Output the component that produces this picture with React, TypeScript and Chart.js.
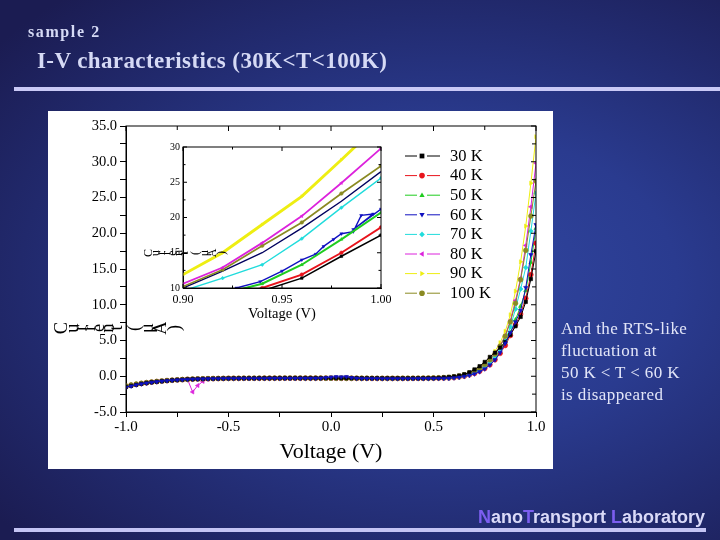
import React, { useEffect, useRef } from "react";
import { Chart, registerables } from "chart.js";

Chart.register(...registerables);

const SERIF = '"Liberation Serif", "Times New Roman", serif';
const SANS = '"Liberation Sans", Arial, sans-serif';

// ---------- data: main plot ----------
const MAIN_VOLTAGE = [
  -1.0, -0.975, -0.95, -0.925, -0.9, -0.875, -0.85, -0.825, -0.8, -0.775,
  -0.75, -0.725, -0.7, -0.675, -0.65, -0.625, -0.6, -0.575, -0.55, -0.525,
  -0.5, -0.475, -0.45, -0.425, -0.4, -0.375, -0.35, -0.325, -0.3, -0.275,
  -0.25, -0.225, -0.2, -0.175, -0.15, -0.125, -0.1, -0.075, -0.05, -0.025,
  0.0, 0.025, 0.05, 0.075, 0.1, 0.125, 0.15, 0.175, 0.2, 0.225,
  0.25, 0.275, 0.3, 0.325, 0.35, 0.375, 0.4, 0.425, 0.45, 0.475,
  0.5, 0.525, 0.55, 0.575, 0.6, 0.625, 0.65, 0.675, 0.7, 0.725,
  0.75, 0.775, 0.8, 0.825, 0.85, 0.875, 0.9, 0.925, 0.95, 0.975,
  1.0,
];

const CURRENT_30K = [
  -1.50, -1.34, -1.19, -1.05, -0.94, -0.84, -0.76, -0.69, -0.62, -0.56,
  -0.51, -0.47, -0.43, -0.40, -0.38, -0.36, -0.34, -0.33, -0.32, -0.31,
  -0.30, -0.29, -0.29, -0.28, -0.28, -0.28, -0.27, -0.27, -0.27, -0.27,
  -0.26, -0.26, -0.26, -0.26, -0.26, -0.26, -0.26, -0.26, -0.26, -0.26,
  -0.26, -0.26, -0.27, -0.27, -0.27, -0.27, -0.28, -0.28, -0.28, -0.28,
  -0.29, -0.29, -0.29, -0.29, -0.29, -0.29, -0.28, -0.28, -0.27, -0.26,
  -0.25, -0.22, -0.17, -0.10, -0.02, 0.10, 0.27, 0.55, 0.95, 1.40,
  2.00, 2.70, 3.30, 4.00, 4.80, 5.80, 7.00, 8.30, 10.40, 13.60,
  17.50,
];
const CURRENT_40K = [
  -1.40, -1.26, -1.13, -1.01, -0.91, -0.82, -0.74, -0.67, -0.61, -0.56,
  -0.51, -0.47, -0.44, -0.41, -0.38, -0.36, -0.34, -0.33, -0.32, -0.31,
  -0.30, -0.30, -0.30, -0.29, -0.29, -0.29, -0.29, -0.28, -0.28, -0.28,
  -0.28, -0.28, -0.28, -0.28, -0.28, -0.28, -0.28, -0.28, -0.28, -0.28,
  -0.28, -0.29, -0.29, -0.29, -0.29, -0.30, -0.30, -0.30, -0.30, -0.31,
  -0.31, -0.31, -0.31, -0.31, -0.31, -0.31, -0.30, -0.30, -0.30, -0.29,
  -0.29, -0.28, -0.27, -0.25, -0.20, -0.10, 0.00, 0.20, 0.40, 0.70,
  1.10, 1.60, 2.30, 3.20, 4.30, 5.70, 7.20, 8.70, 10.90, 14.20,
  18.60,
];
const CURRENT_50K = [
  -1.35, -1.22, -1.10, -0.99, -0.90, -0.81, -0.73, -0.66, -0.60, -0.55,
  -0.50, -0.46, -0.43, -0.40, -0.37, -0.35, -0.34, -0.32, -0.31, -0.30,
  -0.29, -0.29, -0.28, -0.28, -0.28, -0.27, -0.27, -0.27, -0.27, -0.26,
  -0.26, -0.26, -0.26, -0.26, -0.26, -0.26, -0.26, -0.26, -0.26, -0.26,
  -0.27, -0.27, -0.27, -0.27, -0.27, -0.28, -0.28, -0.28, -0.28, -0.28,
  -0.29, -0.29, -0.29, -0.29, -0.29, -0.29, -0.29, -0.29, -0.28, -0.28,
  -0.28, -0.27, -0.26, -0.25, -0.18, -0.08, 0.05, 0.25, 0.45, 0.80,
  1.20, 1.80, 2.50, 3.40, 4.60, 6.10, 7.90, 9.80, 12.00, 15.90,
  20.70,
];
const CURRENT_60K = [
  -1.55, -1.38, -1.22, -1.08, -0.96, -0.86, -0.77, -0.69, -0.63, -0.57,
  -0.52, -0.48, -0.44, -0.41, -0.39, -0.37, -0.35, -0.34, -0.33, -0.32,
  -0.31, -0.31, -0.31, -0.30, -0.30, -0.30, -0.30, -0.30, -0.29, -0.29,
  -0.29, -0.29, -0.29, -0.29, -0.28, -0.28, -0.28, -0.28, -0.26, -0.20,
  -0.12, -0.08, -0.10, -0.06, -0.20, -0.29, -0.31, -0.32, -0.32, -0.32,
  -0.33, -0.33, -0.33, -0.33, -0.33, -0.33, -0.33, -0.32, -0.32, -0.32,
  -0.31, -0.31, -0.30, -0.28, -0.23, -0.15, -0.03, 0.12, 0.32, 0.62,
  1.02, 1.58, 2.30, 3.30, 4.60, 6.10, 7.60, 9.20, 12.40, 17.00,
  21.20,
];
const CURRENT_70K = [
  -1.38, -1.24, -1.11, -1.00, -0.90, -0.82, -0.74, -0.67, -0.61, -0.56,
  -0.51, -0.47, -0.44, -0.41, -0.38, -0.36, -0.34, -0.33, -0.32, -0.31,
  -0.30, -0.30, -0.30, -0.30, -0.29, -0.29, -0.29, -0.29, -0.29, -0.29,
  -0.29, -0.29, -0.29, -0.29, -0.29, -0.30, -0.30, -0.30, -0.30, -0.30,
  -0.31, -0.31, -0.31, -0.32, -0.32, -0.32, -0.33, -0.33, -0.33, -0.33,
  -0.34, -0.34, -0.34, -0.34, -0.34, -0.34, -0.34, -0.33, -0.33, -0.33,
  -0.32, -0.31, -0.29, -0.27, -0.20, -0.10, 0.03, 0.22, 0.48, 0.84,
  1.30, 1.90, 2.70, 3.70, 5.00, 6.90, 9.40, 12.20, 15.20, 20.30,
  25.60,
];
const CURRENT_80K = [
  -1.42, -1.28, -1.15, -1.03, -0.93, -0.84, -0.76, -0.69, -0.62, -0.57,
  -0.52, -0.47, -0.43, -2.20, -1.30, -0.72, -0.42, -0.35, -0.32, -0.31,
  -0.30, -0.29, -0.29, -0.29, -0.28, -0.28, -0.28, -0.28, -0.27, -0.27,
  -0.27, -0.27, -0.27, -0.27, -0.27, -0.27, -0.27, -0.28, -0.28, -0.28,
  -0.28, -0.28, -0.29, -0.29, -0.29, -0.29, -0.30, -0.30, -0.30, -0.30,
  -0.30, -0.30, -0.30, -0.30, -0.30, -0.29, -0.29, -0.28, -0.28, -0.27,
  -0.26, -0.24, -0.21, -0.17, -0.10, 0.02, 0.20, 0.45, 0.75, 1.20,
  1.70, 2.40, 3.20, 4.30, 5.70, 7.80, 10.60, 13.70, 18.30, 23.70,
  29.80,
];
const CURRENT_90K = [
  -1.32, -1.19, -1.07, -0.97, -0.88, -0.80, -0.72, -0.66, -0.60, -0.55,
  -0.50, -0.46, -0.42, -0.39, -0.37, -0.35, -0.33, -0.32, -0.31, -0.30,
  -0.29, -0.28, -0.28, -0.28, -0.27, -0.27, -0.27, -0.26, -0.26, -0.26,
  -0.26, -0.26, -0.25, -0.25, -0.25, -0.25, -0.25, -0.25, -0.25, -0.26,
  -0.26, -0.26, -0.26, -0.27, -0.27, -0.27, -0.27, -0.27, -0.28, -0.28,
  -0.28, -0.28, -0.28, -0.28, -0.28, -0.27, -0.27, -0.26, -0.25, -0.24,
  -0.23, -0.21, -0.17, -0.12, -0.05, 0.07, 0.26, 0.52, 0.86, 1.30,
  1.90, 2.60, 3.50, 4.70, 6.30, 8.60, 11.90, 16.00, 21.00, 27.00,
  33.50,
];
const CURRENT_100K = [
  -1.36, -1.23, -1.11, -1.00, -0.90, -0.82, -0.74, -0.67, -0.61, -0.56,
  -0.51, -0.47, -0.43, -0.40, -0.38, -0.36, -0.34, -0.33, -0.32, -0.31,
  -0.30, -0.29, -0.29, -0.28, -0.28, -0.28, -0.27, -0.27, -0.27, -0.27,
  -0.27, -0.26, -0.26, -0.26, -0.26, -0.26, -0.26, -0.26, -0.27, -0.27,
  -0.27, -0.27, -0.27, -0.28, -0.28, -0.28, -0.28, -0.28, -0.29, -0.29,
  -0.29, -0.29, -0.29, -0.29, -0.28, -0.28, -0.28, -0.27, -0.26, -0.25,
  -0.24, -0.22, -0.19, -0.15, -0.09, 0.02, 0.19, 0.44, 0.75, 1.15,
  1.65, 2.30, 3.10, 4.20, 5.60, 7.60, 10.20, 13.50, 17.60, 22.40,
  27.30,
];

// ---------- data: inset (0.90 V – 1.00 V) ----------
const INSET_VOLTAGE = [0.9, 0.92, 0.94, 0.96, 0.98, 1.0];
const INSET_30K = [6.9, 8.3, 9.6, 11.4, 14.5, 17.5];
const INSET_40K = [7.1, 8.6, 10.0, 11.9, 15.0, 18.6];
const INSET_50K = [7.7, 9.2, 10.6, 13.3, 16.9, 20.7];
const INSET_60K_VOLTAGE = [0.9, 0.92, 0.927, 0.939, 0.95, 0.96, 0.967, 0.971, 0.976, 0.98, 0.986, 0.99, 0.996, 0.986, 1.0];
const INSET_60K = [7.6, 9.0, 10.0, 10.9, 12.4, 14.0, 14.8, 15.9, 16.9, 17.7, 18.0, 20.3, 20.5, 18.3, 21.2];
const INSET_70K = [9.6, 11.4, 13.3, 17.0, 21.4, 25.6];
const INSET_80K = [10.6, 12.9, 16.4, 20.2, 24.9, 29.8];
const INSET_90K = [11.9, 15.0, 19.0, 23.0, 28.2, 33.5];
const INSET_100K = [10.2, 12.6, 16.0, 19.3, 23.4, 27.3];
const INSET_UNLABELED = [10.0, 12.4, 15.0, 18.5, 22.3, 26.5];

const SERIES_LABELS = ["30 K", "40 K", "50 K", "60 K", "70 K", "80 K", "90 K", "100 K"];
const MAIN_CURRENTS = [CURRENT_30K, CURRENT_40K, CURRENT_50K, CURRENT_60K, CURRENT_70K, CURRENT_80K, CURRENT_90K, CURRENT_100K];
const INSET_CURRENTS = [INSET_30K, INSET_40K, INSET_50K, INSET_60K, INSET_70K, INSET_80K, INSET_90K, INSET_100K];
const INSET_VOLTAGES = [INSET_VOLTAGE, INSET_VOLTAGE, INSET_VOLTAGE, INSET_60K_VOLTAGE, INSET_VOLTAGE, INSET_VOLTAGE, INSET_VOLTAGE, INSET_VOLTAGE];

const MAIN_X_TITLE = "Voltage (V)";
const Y_TITLE = "Current (μA)";

// ---------- styles ----------
const SERIES_COLORS = ["#000000", "#e8141c", "#1fcc1f", "#1010c0", "#20dcdc", "#dc22dc", "#eeee12", "#8a8a22"];
const POINT_STYLES = ["rect", "circle", "triangle", "triangle", "rectRot", "triangle", "triangle", "circle"];
const POINT_ROTATIONS = [0, 0, 0, 180, 0, -90, 90, 0];
const MAIN_DRAW_ORDER = [1, 4, 5, 0, 3, 6, 7, 2];
const INSET_LINE_WIDTHS = [1.5, 1.9, 2.0, 1.4, 1.4, 1.8, 2.9, 1.7];

function drawMarker(ctx: CanvasRenderingContext2D, style: string, rot: number, r: number, x: number, y: number, color: string) {
  ctx.save();
  ctx.translate(x, y);
  ctx.rotate((rot * Math.PI) / 180);
  ctx.fillStyle = color;
  ctx.beginPath();
  if (style === "rect") {
    const s = r * 0.85;
    ctx.rect(-s, -s, 2 * s, 2 * s);
  } else if (style === "rectRot") {
    ctx.moveTo(0, -r);
    ctx.lineTo(r, 0);
    ctx.lineTo(0, r);
    ctx.lineTo(-r, 0);
  } else if (style === "triangle") {
    ctx.moveTo(0, -r);
    ctx.lineTo(r * 0.95, r * 0.6);
    ctx.lineTo(-r * 0.95, r * 0.6);
  } else {
    ctx.arc(0, 0, r, 0, Math.PI * 2);
  }
  ctx.closePath();
  ctx.fill();
  ctx.restore();
}

function glyphAdvance(ch: string): number {
  if (ch === " ") return 0.25;
  if (ch === "(" || ch === ")") return 0.85;
  if (ch === "μ") return 0.65;
  if (ch === "t") return 0.55;
  if (/[A-Z]/.test(ch)) return 0.68;
  return 0.47;
}

// the y titles of the original are rendered as a row of rotated glyphs
function drawRotatedGlyphs(ctx: CanvasRenderingContext2D, text: string, startX: number, centerY: number, size: number) {
  ctx.save();
  ctx.font = `${size}px ${SERIF}`;
  ctx.fillStyle = "#000";
  ctx.textAlign = "center";
  ctx.textBaseline = "middle";
  let x = startX;
  for (const ch of text) {
    const adv = glyphAdvance(ch) * size;
    x += adv / 2;
    ctx.save();
    ctx.translate(x, centerY);
    ctx.rotate(-Math.PI / 2);
    ctx.fillText(ch, 0, 0);
    ctx.restore();
    x += adv / 2;
  }
  ctx.restore();
}

type FrameOpts = {
  inTop: boolean; inRight: boolean; inBottom: boolean; inLeft: boolean;
  majorLen: number; minorLen: number;
  isMajorX: (v: number) => boolean; isMajorY: (v: number) => boolean;
};

function framePlugin(id: string, o: FrameOpts) {
  return {
    id,
    afterDraw(chart: any) {
      const { ctx, chartArea: a, scales } = chart;
      const xs = scales.x, ys = scales.y;
      ctx.save();
      ctx.strokeStyle = "#000";
      ctx.lineWidth = 1;
      ctx.strokeRect(a.left, a.top, a.right - a.left, a.bottom - a.top);
      ctx.beginPath();
      for (const t of xs.ticks) {
        const px = xs.getPixelForValue(t.value);
        const len = o.isMajorX(t.value) ? o.majorLen : o.minorLen;
        if (o.inTop) { ctx.moveTo(px, a.top); ctx.lineTo(px, a.top + len); }
        if (o.inBottom) { ctx.moveTo(px, a.bottom); ctx.lineTo(px, a.bottom - len); }
      }
      for (const t of ys.ticks) {
        const py = ys.getPixelForValue(t.value);
        const len = o.isMajorY(t.value) ? o.majorLen : o.minorLen;
        if (o.inRight) { ctx.moveTo(a.right, py); ctx.lineTo(a.right - len, py); }
        if (o.inLeft) { ctx.moveTo(a.left, py); ctx.lineTo(a.left + len, py); }
      }
      ctx.stroke();
      ctx.restore();
    },
  };
}

const isHalfVolt = (v: number) => Math.round(v * 100) % 50 === 0;
const isFiveMicro = (v: number) => Math.round(v * 10) % 50 === 0;
const isInsetMajorX = (v: number) => Math.round(v * 1000) % 50 === 0;

function mainConfig(): any {
  const datasets = SERIES_LABELS.map((label, i) => ({
    label,
    data: MAIN_VOLTAGE.map((v, j) => ({ x: v, y: MAIN_CURRENTS[i][j] })),
    order: MAIN_DRAW_ORDER[i],
    borderColor: SERIES_COLORS[i],
    backgroundColor: SERIES_COLORS[i],
    pointBackgroundColor: SERIES_COLORS[i],
    pointBorderColor: SERIES_COLORS[i],
    borderWidth: 1,
    pointRadius: 2.4,
    pointBorderWidth: 0.6,
    pointStyle: POINT_STYLES[i],
    pointRotation: POINT_ROTATIONS[i],
    tension: 0,
  }));
  return {
    type: "line",
    data: { datasets },
    options: {
      animation: false,
      responsive: true,
      maintainAspectRatio: false,
      layout: { padding: { top: 15, right: 17, left: 0, bottom: 0 } },
      plugins: { legend: { display: false }, tooltip: { enabled: false }, title: { display: false } },
      scales: {
        x: {
          type: "linear",
          position: "bottom",
          min: -1,
          max: 1,
          ticks: {
            stepSize: 0.25,
            autoSkip: false,
            maxRotation: 0,
            padding: 1,
            color: "#000",
            font: { family: SERIF, size: 15 },
            callback: (v: number) => (isHalfVolt(v) ? Number(v).toFixed(1) : ""),
          },
          grid: { drawOnChartArea: false, drawTicks: true, tickLength: 5, color: "#000" },
          border: { display: true, color: "#000", width: 1 },
          title: {
            display: true,
            text: MAIN_X_TITLE,
            color: "#000",
            font: { family: SERIF, size: 22, lineHeight: 1.2 },
            padding: { top: 0, bottom: 4 },
          },
          afterFit: (s: any) => { s.height = 57; },
        },
        y: {
          type: "linear",
          position: "left",
          min: -5,
          max: 35,
          ticks: {
            stepSize: 2.5,
            autoSkip: false,
            padding: 3,
            color: "#000",
            font: { family: SERIF, size: 14.5 },
            callback: (v: number) => (isFiveMicro(v) ? Number(v).toFixed(1) : ""),
          },
          grid: { drawOnChartArea: false, drawTicks: true, tickLength: 6, color: "#000" },
          border: { display: true, color: "#000", width: 1 },
          afterFit: (s: any) => { s.width = 78; },
        },
      },
    },
    plugins: [
      framePlugin("mainFrame", {
        inTop: true, inRight: true, inBottom: false, inLeft: false,
        majorLen: 5, minorLen: 4, isMajorX: isHalfVolt, isMajorY: isFiveMicro,
      }),
      {
        id: "mainYTitle",
        afterDraw(chart: any) {
          drawRotatedGlyphs(chart.ctx, Y_TITLE, 8, 217, 18.5);
        },
      },
    ],
  };
}

function insetConfig(): any {
  const datasets: any[] = SERIES_LABELS.map((label, i) => ({
    label,
    data: INSET_VOLTAGES[i].map((v, j) => ({ x: v, y: INSET_CURRENTS[i][j] })),
    borderColor: SERIES_COLORS[i],
    backgroundColor: SERIES_COLORS[i],
    pointBackgroundColor: SERIES_COLORS[i],
    pointBorderColor: SERIES_COLORS[i],
    borderWidth: INSET_LINE_WIDTHS[i],
    pointRadius: 1.8,
    pointBorderWidth: 0.5,
    pointStyle: POINT_STYLES[i],
    pointRotation: POINT_ROTATIONS[i],
    tension: 0,
  }));
  datasets.push({
    label: "",
    data: INSET_VOLTAGE.map((v, j) => ({ x: v, y: INSET_UNLABELED[j] })),
    borderColor: "#00005e",
    backgroundColor: "#00005e",
    borderWidth: 1.4,
    pointRadius: 0,
    tension: 0,
  });
  return {
    type: "line",
    data: { datasets },
    options: {
      animation: false,
      responsive: true,
      maintainAspectRatio: false,
      layout: { padding: { top: 11, right: 114, left: 0, bottom: 0 } },
      plugins: { legend: { display: false }, tooltip: { enabled: false }, title: { display: false } },
      scales: {
        x: {
          type: "linear",
          position: "bottom",
          min: 0.9,
          max: 1.0,
          ticks: {
            stepSize: 0.025,
            autoSkip: false,
            maxRotation: 0,
            padding: 5,
            color: "#000",
            font: { family: SERIF, size: 12 },
            callback: (v: number) => (isInsetMajorX(v) ? Number(v).toFixed(2) : ""),
          },
          grid: { drawOnChartArea: false, drawTicks: false, color: "#000" },
          border: { display: true, color: "#000", width: 1 },
          title: {
            display: true,
            text: MAIN_X_TITLE,
            color: "#000",
            font: { family: SERIF, size: 14.5, lineHeight: 1 },
            padding: { top: 0, bottom: 1 },
          },
          afterFit: (s: any) => { s.height = 34; },
        },
        y: {
          type: "linear",
          position: "left",
          min: 10,
          max: 30,
          ticks: {
            stepSize: 2.5,
            autoSkip: false,
            padding: 3,
            color: "#000",
            font: { family: SERIF, size: 10 },
            callback: (v: number) => (isFiveMicro(v) ? String(Math.round(v)) : ""),
          },
          grid: { drawOnChartArea: false, drawTicks: false, color: "#000" },
          border: { display: true, color: "#000", width: 1 },
          afterFit: (s: any) => { s.width = 43; },
        },
      },
    },
    plugins: [
      framePlugin("insetFrame", {
        inTop: true, inRight: true, inBottom: true, inLeft: true,
        majorLen: 4, minorLen: 2.5, isMajorX: isInsetMajorX, isMajorY: isFiveMicro,
      }),
      {
        id: "insetYTitle",
        afterDraw(chart: any) {
          drawRotatedGlyphs(chart.ctx, Y_TITLE, 5, 117, 12);
        },
      },
      {
        id: "insetLegend",
        afterDraw(chart: any) {
          const ctx: CanvasRenderingContext2D = chart.ctx;
          let row = 0;
          chart.data.datasets.forEach((ds: any) => {
            if (!ds.label) return;
            const y = 20 + row * 19.6;
            ctx.save();
            ctx.strokeStyle = ds.borderColor;
            ctx.lineWidth = 1;
            ctx.beginPath();
            ctx.moveTo(265, y); ctx.lineTo(277, y);
            ctx.moveTo(287, y); ctx.lineTo(300, y);
            ctx.stroke();
            drawMarker(ctx, ds.pointStyle, ds.pointRotation, 2.8, 282, y, ds.borderColor);
            ctx.fillStyle = "#000";
            ctx.font = `16.5px ${SERIF}`;
            ctx.textAlign = "left";
            ctx.textBaseline = "middle";
            ctx.fillText(ds.label, 310, y + 0.5);
            ctx.restore();
            row++;
          });
        },
      },
    ],
  };
}

const TITLE_COLOR = "#d6daf5";

export default function App() {
  const mainRef = useRef<HTMLCanvasElement>(null);
  const insetRef = useRef<HTMLCanvasElement>(null);

  useEffect(() => {
    const main = new Chart(mainRef.current as HTMLCanvasElement, mainConfig());
    const inset = new Chart(insetRef.current as HTMLCanvasElement, insetConfig());
    return () => {
      main.destroy();
      inset.destroy();
    };
  }, []);

  return (
    <div
      style={{
        position: "fixed",
        left: 0,
        top: 0,
        width: 720,
        height: 540,
        overflow: "hidden",
        background:
          "radial-gradient(ellipse 80% 70% at 62% 52%, #3147a2 0%, #2a3b8f 40%, #222b70 70%, #1b1c52 100%)",
      }}
    >
      <div
        style={{
          position: "absolute", left: 28, top: 24, fontFamily: SERIF, fontWeight: "bold",
          fontSize: 16, lineHeight: "16px", letterSpacing: 1.6, color: TITLE_COLOR, whiteSpace: "nowrap",
        }}
      >
        sample 2
      </div>
      <div
        style={{
          position: "absolute", left: 37, top: 49.2, fontFamily: SERIF, fontWeight: "bold",
          fontSize: 23, lineHeight: "23px", letterSpacing: 0.4, color: TITLE_COLOR, whiteSpace: "nowrap",
        }}
      >
        I-V characteristics (30K&lt;T&lt;100K)
      </div>
      <div style={{ position: "absolute", left: 14, top: 87.3, width: 706, height: 3.4, background: "#c9c9f6" }} />

      <div style={{ position: "absolute", left: 48, top: 111, width: 505, height: 358, background: "#ffffff" }}>
        <canvas ref={mainRef} />
      </div>
      <div style={{ position: "absolute", left: 140, top: 136, width: 355, height: 186, background: "#ffffff" }}>
        <canvas ref={insetRef} />
      </div>

      <div
        style={{
          position: "absolute", left: 561, top: 318.4, fontFamily: SERIF, fontSize: 17,
          lineHeight: "21.7px", letterSpacing: 0.4, color: "#e2e5f8", whiteSpace: "nowrap",
        }}
      >
        And the RTS-like
        <br />
        fluctuation at
        <br />
        50 K &lt; T &lt; 60 K
        <br />
        is disappeared
      </div>

      <div
        style={{
          position: "absolute", right: 15, top: 508, fontFamily: SANS, fontWeight: "bold",
          fontSize: 18, lineHeight: "18px", color: "#dadaf8", whiteSpace: "nowrap",
        }}
      >
        <span style={{ color: "#7c5ef0" }}>N</span>ano<span style={{ color: "#7c5ef0" }}>T</span>ransport{" "}
        <span style={{ color: "#7c5ef0" }}>L</span>aboratory
      </div>
      <div style={{ position: "absolute", left: 14, top: 528, width: 692, height: 4, background: "#c4c4f4" }} />
    </div>
  );
}
